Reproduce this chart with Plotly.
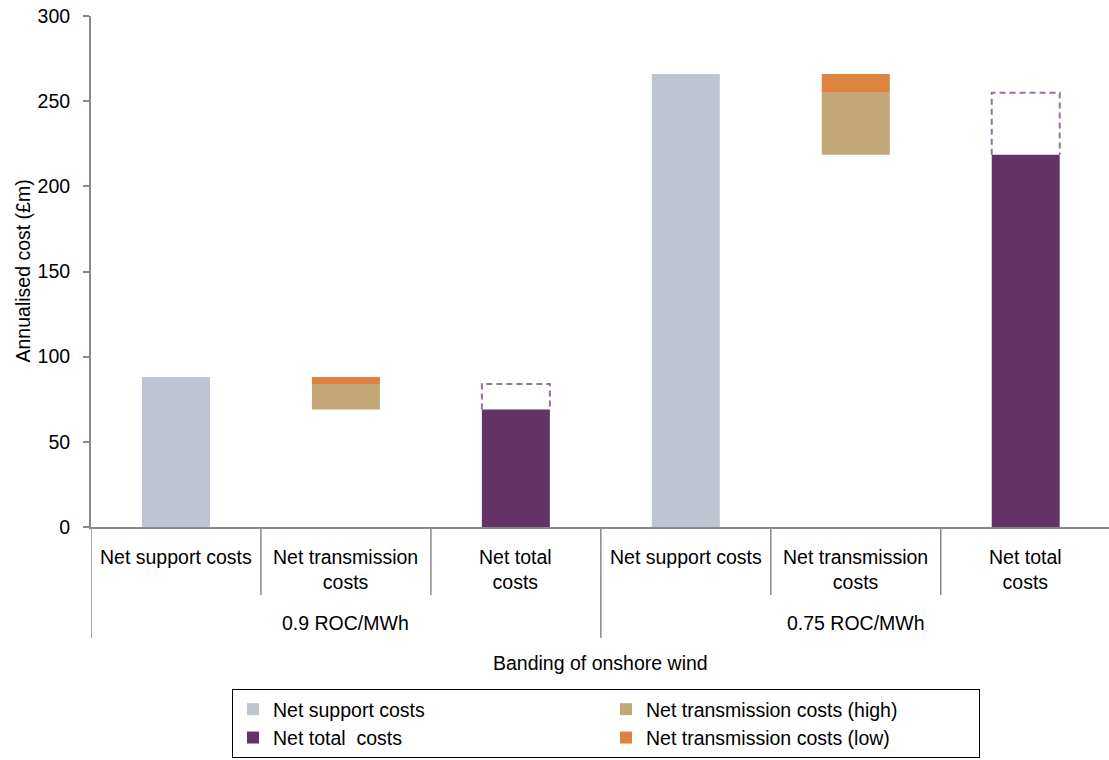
import plotly.graph_objects as go

# Banding scenarios and the three bars shown in each
bandings = ["0.9 ROC/MWh", "0.75 ROC/MWh"]
bar_labels = ["Net support costs", "Net transmission<br>costs", "Net total<br>costs"]

# Annualised costs (£m)
support_costs = [88, 266]          # net support costs
total_high = [69, 218.5]           # net total costs (high transmission saving)
total_low = [84, 255]              # net total costs (low transmission saving)

# Bar pieces derived from the values above
trans_high = [lo - hi for lo, hi in zip(total_low, total_high)]
trans_low = [s - lo for s, lo in zip(support_costs, total_low)]

x_support = [0, 3]
x_trans = [1, 4]
x_total = [2, 5]

C_SUPPORT = "#BEC5D1"
C_HIGH = "#C3A776"
C_LOW = "#DD833F"
C_TOTAL = "#633366"
C_DASH = "#94729A"
C_AXIS = "#898989"
FONT = "Liberation Sans, Arial, sans-serif"
FS = 19.5
BW = 0.4

fig = go.Figure()

fig.add_trace(go.Bar(x=x_support, y=support_costs, width=BW, name="Net support costs",
                     marker=dict(color=C_SUPPORT, line=dict(width=0)), legendrank=1))
fig.add_trace(go.Bar(x=x_trans, y=trans_high, base=total_high, width=BW,
                     name="Net transmission costs (high)",
                     marker=dict(color=C_HIGH, line=dict(width=0)), legendrank=2))
fig.add_trace(go.Bar(x=x_total, y=total_high, width=BW, name="Net total  costs",
                     marker=dict(color=C_TOTAL, line=dict(width=0)), legendrank=3))
fig.add_trace(go.Bar(x=x_trans, y=trans_low, base=total_low, width=BW,
                     name="Net transmission costs (low)",
                     marker=dict(color=C_LOW, line=dict(width=0)), legendrank=4))

# Dashed outline above the net total bars, up to the low-saving total
ox, oy = [], []
for xc, hi, lo in zip(x_total, total_high, total_low):
    ox += [xc - BW / 2, xc - BW / 2, xc + BW / 2, xc + BW / 2, None]
    oy += [hi, lo, lo, hi, None]
fig.add_trace(go.Scatter(x=ox, y=oy, mode="lines", showlegend=False, hoverinfo="skip",
                         line=dict(color=C_DASH, width=2, dash="6px,4px")))

# Category labels and divider lines under the axis
PLOT_TOP, PLOT_BOTTOM = 16, 527
def py(pix):
    return (PLOT_BOTTOM - pix) / (PLOT_BOTTOM - PLOT_TOP)

annotations = []
shapes = []
for g, band in enumerate(bandings):
    for i, lab in enumerate(bar_labels):
        annotations.append(dict(x=g * 3 + i, y=py(544), xref="x", yref="paper",
                                text=lab, showarrow=False, xanchor="center", yanchor="top",
                                font=dict(size=FS, color="#000000", family=FONT)))
    annotations.append(dict(x=g * 3 + 1, y=py(623), xref="x", yref="paper",
                            text=band, showarrow=False, xanchor="center", yanchor="middle",
                            font=dict(size=FS, color="#000000", family=FONT)))
    for d in (0.5, 1.5):
        shapes.append(dict(type="line", xref="x", yref="paper", x0=g * 3 + d, x1=g * 3 + d,
                           y0=0, y1=py(595), line=dict(color=C_AXIS, width=1.5)))
for d in (-0.5, 2.5, 5.5):
    shapes.append(dict(type="line", xref="x", yref="paper", x0=d, x1=d,
                       y0=0, y1=py(638), line=dict(color=C_AXIS, width=1.5)))

annotations.append(dict(x=0.5, y=py(663), xref="paper", yref="paper",
                        text="Banding of onshore wind", showarrow=False,
                        xanchor="center", yanchor="middle",
                        font=dict(size=FS, color="#000000", family=FONT)))
annotations.append(dict(x=(22 - 91) / 1018, y=0.5, xref="paper", yref="paper",
                        text="Annualised cost (£m)", showarrow=False, textangle=-90,
                        xanchor="center", yanchor="middle",
                        font=dict(size=FS, color="#000000", family=FONT)))

fig.update_layout(
    width=1109, height=760,
    margin=dict(l=91, r=0, t=PLOT_TOP, b=760 - PLOT_BOTTOM),
    paper_bgcolor="white", plot_bgcolor="white",
    barmode="overlay",
    font=dict(family=FONT, size=FS, color="#000000"),
    showlegend=True,
    legend=dict(orientation="h", x=(232 - 91) / 1018, y=py(689), xanchor="left", yanchor="top",
                xref="paper", yref="paper", entrywidth=328, entrywidthmode="pixels",
                bordercolor="#000000", borderwidth=1, bgcolor="white",
                font=dict(size=FS, family=FONT, color="#000000"), traceorder="normal"),
    xaxis=dict(range=[-0.5, 5.49], showgrid=False, zeroline=False, showticklabels=False,
               ticks="", showline=True, linecolor=C_AXIS, linewidth=2, fixedrange=True),
    yaxis=dict(range=[0, 300], dtick=50, showgrid=False, zeroline=False, showline=True,
               linecolor=C_AXIS, linewidth=2, ticks="outside", ticklen=6, tickwidth=1.5,
               tickcolor=C_AXIS, ticklabelstandoff=9,
               tickfont=dict(size=FS, family=FONT, color="#000000")),
    annotations=annotations,
    shapes=shapes,
)

fig.write_html("out.html")
